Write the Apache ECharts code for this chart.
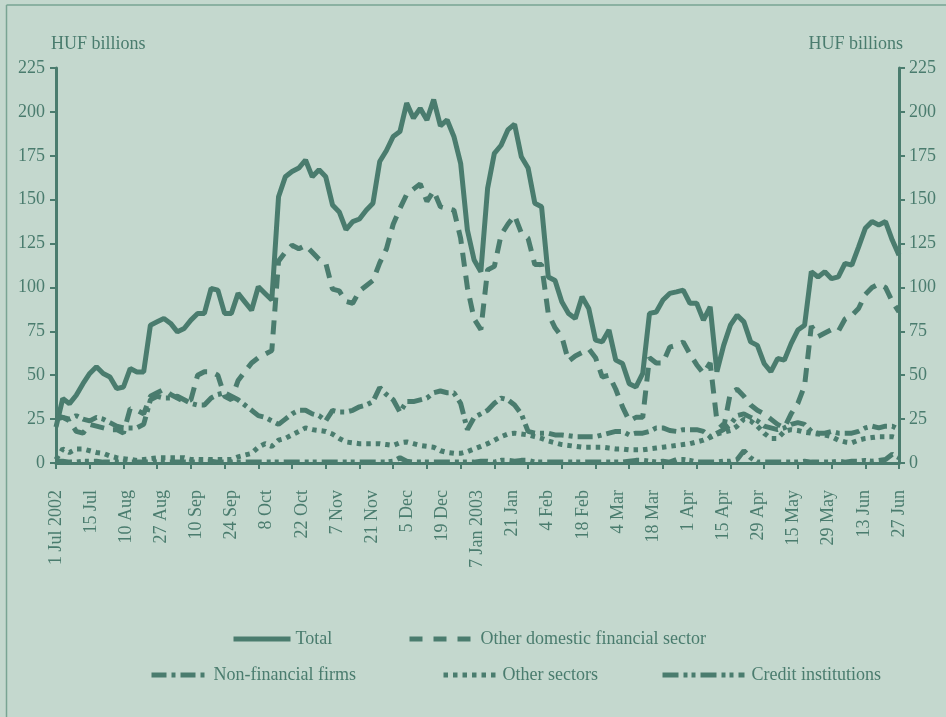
<!DOCTYPE html>
<html>
<head>
<meta charset="utf-8">
<title>HUF billions</title>
<script src="https://cdn.jsdelivr.net/npm/echarts@6/dist/echarts.min.js"></script>
<style>
  html, body { margin: 0; padding: 0; background: #c4d8ce; }
  #chart { width: 946px; height: 717px; }
</style>
</head>
<body>
<div id="chart"></div>
<script>
// one observation every second trading day, 1 Jul 2002 - 27 Jun 2003
var dateLabels = ['1 Jul 2002', '15 Jul', '10 Aug', '27 Aug', '10 Sep', '24 Sep', '8 Oct', '22 Oct',
    '7 Nov', '21 Nov', '5 Dec', '19 Dec', '7 Jan 2003', '21 Jan', '4 Feb', '18 Feb', '4 Mar',
    '18 Mar', '1 Apr', '15 Apr', '29 Apr', '15 May', '29 May', '13 Jun', '27 Jun'];

var total = [20.5, 36.7, 33.8, 38.6, 45.2, 51, 54.8, 51, 49, 42.4,
    43.3, 53.8, 51.9, 51.9, 78.5, 80.4, 82.3, 79.5, 74.7, 76.6,
    81.4, 85.2, 85.2, 99.4, 98.5, 85.2, 85.2, 96.6, 91.8, 87,
    100.4, 96.6, 92.8, 151.7, 163, 166, 168, 172.6, 163, 167,
    163, 147, 143, 133, 137.5, 139, 144, 148, 171.7, 178,
    186, 188.8, 205, 196.4, 202, 195.4, 207, 192, 195.4, 186,
    170.7, 132.7, 115.6, 109, 156.5, 176.4, 181, 189.7, 193, 174.5,
    168, 148, 146, 106, 104, 91.8, 85.2, 82.3, 94.7, 88,
    70, 69, 75.7, 58.6, 56.7, 45.2, 43.3, 51, 85.2, 86,
    92.8, 96.6, 97.5, 98.5, 91, 91, 81.4, 89, 52, 67,
    78.5, 84.2, 80.4, 69, 67, 56.7, 52, 59.5, 58.6, 68,
    75.7, 78.5, 109, 106, 109, 105, 106, 113.7, 112.7, 123,
    133.7, 137.5, 135.6, 137.5, 127, 118.4];

var otherDomestic = [25, 26, 24, 18, 17, 22, 21, 20, 19, 19,
    17, 31, 30, 28, 38, 40, 42, 39, 37, 35,
    36, 50, 52, 52, 50, 38, 36, 47, 52, 57,
    60, 62, 64, 115, 120, 124, 122, 124, 120, 116,
    114, 99, 98, 92, 91, 98, 101, 104, 114, 122,
    136, 145, 153, 156, 159, 149, 155, 146, 145, 144,
    128, 100, 82, 76, 110, 112, 130, 136, 141, 131,
    128, 113, 113, 85, 77, 72, 58, 61, 63, 65,
    60, 49, 50, 42, 32, 24, 26, 26, 60, 57,
    57, 66, 67, 69, 62, 56, 51, 57, 24, 20,
    40, 42, 38, 33, 30, 28, 25, 22, 20, 28,
    34, 44, 78, 72, 74, 76, 75, 82, 84, 88,
    96, 100, 102, 100, 92, 86];

var nonFinancial = [27, 26, 25, 27, 25, 24, 26, 25, 23, 21,
    20, 20, 20, 22, 36, 38, 37, 37, 38, 36,
    34, 33, 33, 37, 39, 40, 38, 36, 33, 30,
    27, 26, 24, 22, 25, 28, 30, 30, 28, 27,
    24, 30, 29, 29, 30, 32, 33, 35, 43, 39,
    36, 29, 35, 35, 36, 37, 40, 41, 40, 40,
    34, 19, 26, 28, 30, 34, 37, 36, 33, 28,
    18, 17, 17, 17, 16, 16, 15.5, 15, 15, 15,
    15, 16, 17, 18, 18, 16, 17, 17, 18, 20,
    20, 18.5, 18, 19, 19, 19, 18, 15, 17, 19,
    22, 27, 28, 26, 24, 21, 20, 19, 20, 22,
    23, 22, 18, 17, 17, 18, 17, 17, 17, 18,
    20, 21, 20, 21, 21, 19];

var otherSectors = [2, 8, 6, 8, 8, 7, 6, 5.5, 4, 3,
    2.5, 2, 1.5, 2, 2.5, 3, 3, 3, 3, 3,
    2, 2, 2, 2, 2, 2, 2, 3.5, 4.5, 5.5,
    9, 11, 9.5, 13, 14, 16, 18, 20, 19, 18.5,
    18, 16.5, 14, 12, 11.5, 11, 11, 11, 11, 10.5,
    10, 11.5, 12, 11, 10, 9.5, 9, 7, 6, 5.5,
    5.5, 6.5, 8, 9.5, 11, 13, 15, 16.5, 17, 16.5,
    16, 15, 14, 12.5, 11.5, 10.5, 10, 9.5, 9, 9,
    9, 9, 8.5, 8, 8, 7.5, 7.5, 7.5, 8, 8.5,
    9, 9.5, 10, 10.5, 11, 12, 13, 14.5, 16.5, 17.5,
    18.5, 21, 25, 24, 21, 17, 14, 14, 18, 19,
    18.5, 17.5, 17, 16.5, 16, 15, 13, 12, 11.5, 13,
    14, 14.5, 15, 15, 15, 14];

var creditInst = [1, 1, 0.5, 0.5, 1, 1, 1, 0.5, 0.5, 0.5,
    0.5, 0.5, 0.5, 0.5, 0.5, 0.5, 0.5, 0.5, 0.5, 0.5,
    0.5, 0.5, 1, 1, 0.5, 0.5, 0.5, 0.5, 0.5, 0.5,
    0.5, 0.5, 0.5, 0.5, 0.5, 0.5, 0.5, 0.5, 0.5, 0.5,
    0.5, 0.5, 0.5, 0.5, 0.5, 0.5, 0.5, 0.5, 0.5, 0.5,
    1, 3, 1, 0.5, 0.5, 0.5, 0.5, 0.5, 0.5, 0.5,
    0.5, 0.5, 0.5, 1, 1, 0.5, 1.5, 1.5, 1, 1.5,
    1.5, 0.5, 0.5, 0.5, 0.5, 0.5, 0.5, 0.5, 0.5, 0.5,
    0.5, 0.5, 0.5, 0.5, 0.5, 1, 1.5, 1.5, 1, 0.5,
    1, 0.5, 2, 2, 1.5, 0.5, 0.5, 0.5, 0.5, 1,
    1, 2, 7, 3, 0.5, 0.5, 0.5, 0.5, 0.5, 0.5,
    0.5, 1, 0.5, 0.5, 0.5, 0.5, 1, 0.5, 1, 1,
    1.5, 1, 1.5, 2, 5, 3];

var ink = '#4a7c6e';
var font = 'Liberation Serif';
var lw = 5;

var obs = [];
for (var i = 0; i < total.length; i++) obs.push(String(i));

function yAxisOf(pos, margin) {
    return {
        type: 'value',
        position: pos,
        min: 0,
        max: 225,
        interval: 25,
        splitLine: { show: false },
        axisLine: { show: true, lineStyle: { color: ink, width: 3 } },
        axisTick: { show: true, length: 6, lineStyle: { color: ink, width: 2 } },
        axisLabel: { margin: margin, color: ink, fontFamily: font, fontSize: 18 }
    };
}

// one legend per item so each sits where the original puts it
function legendOf(name, left, top, w, pad, dash) {
    return {
        data: [name],
        left: left,
        top: top,
        itemWidth: w,
        itemHeight: 14,
        itemStyle: { opacity: 0 },
        lineStyle: { width: lw, type: dash, color: ink },
        textStyle: { color: ink, fontFamily: font, fontSize: 18, padding: [0, 0, 0, pad] }
    };
}

function lineOf(name, data, dash, z) {
    return {
        name: name,
        type: 'line',
        data: data,
        symbol: 'none',
        z: z,
        lineStyle: { color: ink, width: lw, type: dash },
        itemStyle: { color: ink }
    };
}

var dashTotal = 'solid';
var dashDomestic = [14, 9];
var dashFirms = [15, 5, 4, 5];
var dashSectors = [4.5, 5];
var dashCredit = [16, 5, 4, 4, 4, 5];

var chart = echarts.init(document.getElementById('chart'));
chart.setOption({
    animation: false,
    backgroundColor: '#c4d8ce',
    grid: { left: 56, right: 47, top: 68, height: 395 },
    xAxis: [{
        type: 'category',
        data: obs,
        boundaryGap: false,
        position: 'bottom',
        axisLine: { lineStyle: { color: ink, width: 3 } },
        axisTick: { interval: 4, length: 6, lineStyle: { color: ink, width: 2 } },
        axisLabel: { show: false }
    }, {
        type: 'category',
        data: dateLabels,
        boundaryGap: false,
        position: 'bottom',
        axisLine: { show: false },
        axisTick: { show: false },
        axisLabel: { interval: 0, rotate: 90, margin: 27, color: ink, fontFamily: font, fontSize: 18 }
    }],
    yAxis: [yAxisOf('left', 11), yAxisOf('right', 10)],
    legend: [
        legendOf('Total', 226, 625, 57, 0, dashTotal),
        legendOf('Other domestic financial sector', 402, 625, 64, 2, [13, 11]),
        legendOf('Non-financial firms', 144, 661, 56, 1, dashFirms),
        legendOf('Other sectors', 436, 661, 52, 2, dashSectors),
        legendOf('Credit institutions', 655, 661, 82, 2, dashCredit)
    ],
    graphic: [
        { type: 'line', shape: { x1: 6.5, y1: 5, x2: 946, y2: 5 }, style: { stroke: '#79a493', lineWidth: 1.5 } },
        { type: 'line', shape: { x1: 6.5, y1: 5, x2: 6.5, y2: 717 }, style: { stroke: '#79a493', lineWidth: 1.5 } },
        { type: 'text', left: 51, top: 35, style: { text: 'HUF billions', fill: ink, font: '18px "Liberation Serif"' } },
        { type: 'text', right: 43, top: 35, style: { text: 'HUF billions', fill: ink, font: '18px "Liberation Serif"' } }
    ],
    series: [
        lineOf('Total', total, dashTotal, 6),
        lineOf('Other domestic financial sector', otherDomestic, dashDomestic, 5),
        lineOf('Non-financial firms', nonFinancial, dashFirms, 4),
        lineOf('Other sectors', otherSectors, dashSectors, 3),
        lineOf('Credit institutions', creditInst, dashCredit, 2)
    ]
});
</script>
</body>
</html>
